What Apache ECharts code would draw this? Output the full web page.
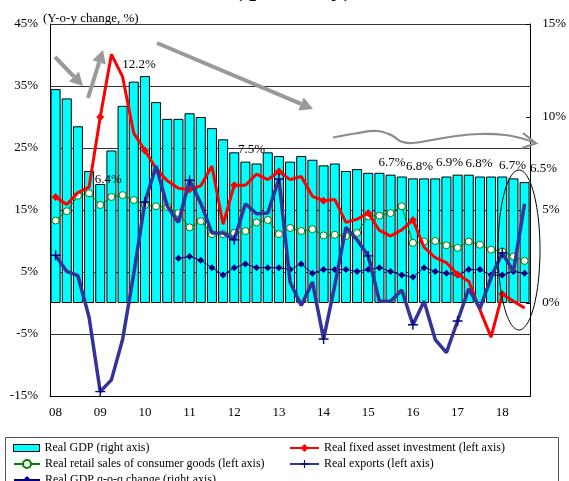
<!DOCTYPE html>
<html>
<head>
<meta charset="utf-8">
<script src="https://cdn.jsdelivr.net/npm/echarts@6/dist/echarts.min.js"></script>
<style>
html, body { margin: 0; padding: 0; background: #fff; }
#chart { width: 569px; height: 481px; }
</style>
</head>
<body>
<div id="chart"></div>
<script>
// Quarterly categories 2008Q1 - 2018Q3
const years = ['08', '09', '10', '11', '12', '13', '14', '15', '16', '17', '18'];
const quarterNames = ['Q1', 'Q2', 'Q3', 'Q4'];
const quarters = [];
years.forEach(function (y) {
  quarterNames.forEach(function (q) {
    if (!(y === '18' && q === 'Q4')) quarters.push(y + q);
  });
});

// Real GDP, y-o-y % (right axis)
const gdpYoY = [11.5, 11.0, 9.5, 7.1, 6.4, 8.2, 10.6, 11.9, 12.2, 10.8, 9.9, 9.9,
  10.2, 10.0, 9.4, 8.8, 8.1, 7.6, 7.5, 8.1, 7.9, 7.6, 7.9, 7.7,
  7.4, 7.5, 7.1, 7.2, 7.0, 7.0, 6.9, 6.8, 6.7, 6.7, 6.7, 6.8,
  6.9, 6.9, 6.8, 6.8, 6.8, 6.7, 6.5];

// Real fixed asset investment, y-o-y % (left axis)
const fixedInvestment = [17.1, 15.9, 17.8, 18.7, 30.0, 40.1, 36.5, 27.4, 24.6, 21.7, 19.7, 18.5,
  18.3, 18.9, 22.1, 12.7, 19.0, 19.0, 20.8, 19.9, 21.2, 19.9, 20.4, 17.2,
  16.5, 16.7, 13.0, 13.5, 14.5, 11.7, 10.8, 11.8, 13.4, 9.0, 7.3, 6.5,
  4.6, 3.5, -1.1, -5.5, 1.4, 0.3, -0.8];

// Real retail sales of consumer goods, y-o-y % (left axis)
const retailSales = [13.3, 14.8, 17.3, 17.7, 15.8, 17.1, 17.4, 16.6, 15.8, 15.6, 15.5, 14.5,
  12.2, 13.2, 11.1, 11.1, 11.3, 11.6, 13.0, 13.4, 11.1, 12.1, 11.6, 11.9,
  10.9, 11.0, 10.8, 11.3, 14.0, 14.1, 14.5, 15.6, 9.7, 9.9, 10.0, 9.3,
  8.9, 9.9, 9.4, 8.6, 8.3, 7.5, 6.8];

// Real exports, y-o-y % (left axis)
const realExports = [7.7, 5.1, 4.4, -2.3, -14.3, -12.4, -5.9, 4.7, 16.3, 22.1, 15.6, 13.0,
  19.8, 16.1, 11.3, 11.3, 10.2, 16.0, 14.4, 14.5, 20.0, 3.4, -0.4, 3.4,
  -5.8, 2.8, 12.2, 10.2, 7.6, 0.3, 0.3, 2.1, -3.5, 0.3, -5.9, -8.0,
  -2.9, 2.3, -0.9, 4.1, 8.1, 5.1, 16.0];

// Real GDP q-o-q change, % (right axis), available from 2010Q4
const gdpQoQ = [null, null, null, null, null, null, null, null, null, null, null,
  2.4, 2.5, 2.3, 1.9, 1.5, 1.9, 2.1, 1.9, 1.9, 1.9, 1.8, 2.1,
  1.6, 1.8, 1.8, 1.8, 1.7, 1.8, 1.9, 1.7, 1.5, 1.4, 1.9, 1.7,
  1.6, 1.5, 1.8, 1.8, 1.5, 1.5, 1.7, 1.6];

// Quarters whose GDP bar carries a value label
const labelledQuarters = ['09Q1', '10Q1', '12Q3', '16Q1', '16Q4', '17Q1', '17Q3', '18Q2', '18Q3'];

// Label placement (offset x, distance above bar)
const labelPlacement = {
  '09Q1': [8, -2], '10Q1': [-6, 5], '12Q3': [-5, 7], '16Q1': [-21, 9], '16Q4': [-27, 3],
  '17Q1': [-8, 6], '17Q3': [-1, 6], '18Q2': [-1, 6], '18Q3': [19, 7]
};

const FONT = 'Liberation Serif, Times New Roman, serif';

const gdpData = gdpYoY.map(function (v, i) {
  const q = quarters[i];
  if (labelledQuarters.indexOf(q) < 0) return v;
  const p = labelPlacement[q];
  return { value: v, label: { show: true, offset: [p[0], 0], distance: p[1] } };
});

const PLUS = 'path://M4.3,0H5.7V4.3H10V5.7H5.7V10H4.3V5.7H0V4.3H4.3Z';

function arrowHead(x1, y1, x2, y2, len, half) {
  const a = Math.atan2(y2 - y1, x2 - x1);
  const bx = x2 - len * Math.cos(a), by = y2 - len * Math.sin(a);
  return {
    base: [bx, by],
    pts: [[x2, y2], [bx + half * Math.sin(a), by - half * Math.cos(a)], [bx - half * Math.sin(a), by + half * Math.cos(a)]]
  };
}

function solidArrow(x1, y1, x2, y2) {
  const h = arrowHead(x1, y1, x2, y2, 13, 7);
  return [
    { type: 'line', z: 100, shape: { x1: x1, y1: y1, x2: h.base[0], y2: h.base[1] },
      style: { stroke: '#999', lineWidth: 4 } },
    { type: 'polygon', z: 100, shape: { points: h.pts }, style: { fill: '#999' } }
  ];
}

// Trend annotations
const annotations = [];
solidArrow(55, 57, 83, 86).forEach(function (e) { annotations.push(e); });
solidArrow(88, 98, 103, 50).forEach(function (e) { annotations.push(e); });
solidArrow(157, 43, 313, 109).forEach(function (e) { annotations.push(e); });

const wave = [[333, 137.5], [355, 133.5], [377, 131], [391, 135], [401, 141.5], [412, 143],
  [432, 140], [456, 136], [480, 134], [505, 135], [524, 139], [535, 143]];
annotations.push({ type: 'polyline', z: 100, shape: { points: wave, smooth: 0.4 },
  style: { stroke: '#8c8c8c', lineWidth: 2.2, fill: null } });
annotations.push({ type: 'polyline', z: 100,
  shape: { points: [[523, 133], [536, 143.3], [522, 148]] },
  style: { stroke: '#8c8c8c', lineWidth: 2.2, fill: null } });

// Ellipse around the latest quarters
const ell = [];
for (let k = 0; k <= 90; k++) {
  const t = k / 90 * Math.PI * 2;
  ell.push([519 + 21 * Math.cos(t), 250 + 80 * Math.sin(t)]);
}
annotations.push({ type: 'polyline', z: 100, shape: { points: ell },
  style: { stroke: '#000', lineWidth: 1, fill: null } });

// Title, axis caption and legend frame
annotations.push({ type: 'text', z: 100, x: 293, y: 2,
  style: { text: '(quarterly)', font: 'bold 25px ' + FONT, fill: '#000', align: 'center', verticalAlign: 'bottom' } });
annotations.push({ type: 'text', z: 100, x: 43, y: 19,
  style: { text: '(Y-o-y change, %)', font: '13px ' + FONT, fill: '#000', align: 'left', verticalAlign: 'middle' } });
annotations.push({ type: 'rect', z: 0, shape: { x: 5.5, y: 437.5, width: 553, height: 60 },
  style: { stroke: '#555', lineWidth: 1, fill: null } });

const chart = echarts.init(document.getElementById('chart'), null, { renderer: 'canvas' });

const legendText = { fontFamily: FONT, fontSize: 12, color: '#000' };

// One legend entry per slot: [name, left, top, icon width, icon height]
const legendSlots = [
  [{ name: 'Real GDP (right axis)', icon: 'rect', itemStyle: { color: '#00FFFF', borderColor: '#000', borderWidth: 1 } }, 13, 442, 26, 7],
  ['Real retail sales of consumer goods (left axis)', 13, 458, 26, 10],
  ['Real GDP q-o-q change (right axis)', 13, 474, 26, 10],
  ['Real fixed asset investment (left axis)', 289, 442, 29, 10],
  ['Real exports (left axis)', 289, 458, 29, 10]
];

chart.setOption({
  animation: false,
  backgroundColor: '#fff',
  textStyle: { fontFamily: FONT },
  grid: { left: 50, right: 33, top: 24, bottom: 85, containLabel: false },
  legend: legendSlots.map(function (s) {
    return { orient: 'horizontal', left: s[1], top: s[2], itemWidth: s[3], itemHeight: s[4],
      padding: 0, selectedMode: false, textStyle: legendText, data: [s[0]] };
  }),
  xAxis: {
    type: 'category',
    data: quarters,
    boundaryGap: true,
    axisLine: { onZero: false, lineStyle: { color: '#000', width: 1 } },
    axisTick: { show: false },
    axisLabel: {
      interval: 3, margin: 10, fontSize: 13, color: '#000', fontFamily: FONT,
      formatter: function (v) { return v.slice(0, 2); }
    }
  },
  yAxis: [
    {
      type: 'value', min: -15, max: 45, interval: 10, position: 'left',
      axisLine: { show: true, lineStyle: { color: '#000' } },
      axisTick: { show: false },
      axisLabel: { formatter: '{value}%', fontSize: 13, color: '#000', margin: 12, fontFamily: FONT },
      splitLine: { show: true, lineStyle: { color: '#333', width: 1 } }
    },
    {
      type: 'value', min: -5, max: 15, interval: 5, position: 'right',
      axisLine: { show: true, lineStyle: { color: '#000' } },
      axisTick: { show: true, inside: true, length: 4, lineStyle: { color: '#000' } },
      axisLabel: {
        fontSize: 13, color: '#000', margin: 12, fontFamily: FONT,
        formatter: function (v) { return v < 0 ? '' : v + '%'; }
      },
      splitLine: { show: false }
    }
  ],
  series: [
    {
      name: 'Real GDP (right axis)', type: 'bar', yAxisIndex: 1,
      data: gdpData, barCategoryGap: '10%',
      itemStyle: { color: '#00FFFF', borderColor: '#000', borderWidth: 1 },
      label: {
        show: false, position: 'top', color: '#000', fontSize: 13, fontFamily: FONT,
        formatter: function (p) { return p.value.toFixed(1) + '%'; }
      },
      z: 2
    },
    {
      name: 'Real GDP q-o-q change (right axis)', type: 'line', yAxisIndex: 1,
      data: gdpQoQ, symbol: 'diamond', symbolSize: 7, showSymbol: true,
      lineStyle: { color: '#000080', width: 1 }, itemStyle: { color: '#000080' }, z: 3
    },
    {
      name: 'Real retail sales of consumer goods (left axis)', type: 'line', yAxisIndex: 0,
      data: retailSales, symbol: 'circle', symbolSize: 7,
      lineStyle: { color: '#008000', width: 1 },
      itemStyle: { color: '#fff', borderColor: '#008000', borderWidth: 1 }, z: 4
    },
    {
      name: 'Real fixed asset investment (left axis)', type: 'line', yAxisIndex: 0,
      data: fixedInvestment, symbol: 'diamond', symbolSize: 8,
      lineStyle: { color: '#FF0000', width: 3 }, itemStyle: { color: '#FF0000' }, z: 5
    },
    {
      name: 'Real exports (left axis)', type: 'line', yAxisIndex: 0,
      data: realExports, symbol: PLUS, symbolSize: 10,
      lineStyle: { color: '#333399', width: 3.5 }, itemStyle: { color: '#000080' }, z: 6
    }
  ],
  graphic: annotations
});
</script>
</body>
</html>
